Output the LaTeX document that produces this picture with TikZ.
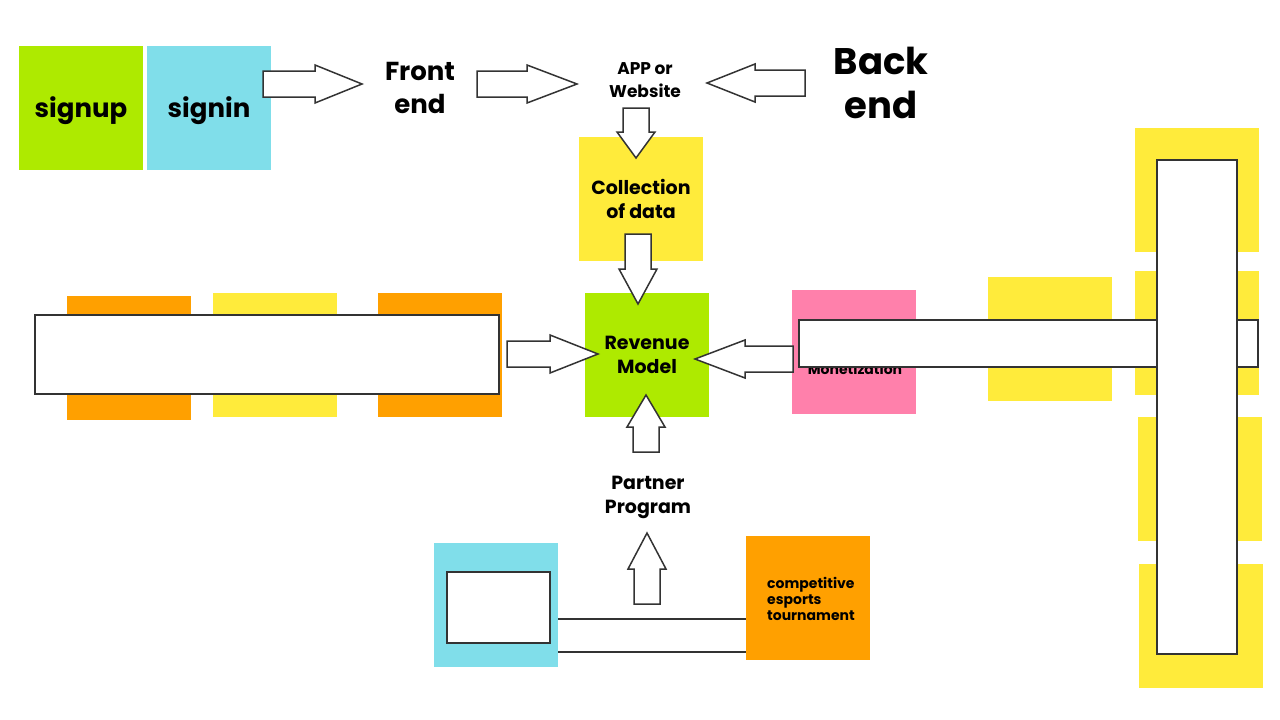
\documentclass[tikz,border=0pt]{standalone}
\usepackage{fontspec}
\setmainfont{Poppins}
\usetikzlibrary{calc}
\usetikzlibrary{positioning}

\definecolor{stickygreen}{HTML}{AEEA00}
\definecolor{stickyblue}{HTML}{80DEEA}
\definecolor{stickyyellow}{HTML}{FFEB3B}
\definecolor{stickyorange}{HTML}{FFA000}
\definecolor{stickypink}{HTML}{FF80AB}
\definecolor{outline}{HTML}{333333}

% block arrow from tail coordinate to tip coordinate
\newcommand\fatarrow[3][40]{%
  \coordinate (hb) at ($(#3)!#1pt!(#2)$);
  \draw[arrowline] ($(#2)!13pt!90:(#3)$) -- ($(hb)!13pt!90:(#3)$)
    -- ($(hb)!19pt!90:(#3)$) -- (#3) -- ($(hb)!19pt!-90:(#3)$)
    -- ($(hb)!13pt!-90:(#3)$) -- ($(#2)!13pt!-90:(#3)$) -- cycle;}

\begin{document}
\begin{tikzpicture}
[x=1pt,y=-1pt,
 sticky/.style={minimum width=124pt,minimum height=124pt,inner sep=0pt,font=\fontsize{19}{24}\selectfont\bfseries,align=center},
 label/.style={inner sep=0pt,align=center,font=\fontsize{19}{24}\selectfont\bfseries},
 blank/.style={draw=outline,fill=white,line width=1.5pt},
 arrowline/.style={draw=outline,fill=white,line width=1.5pt,line join=miter}]
\useasboundingbox (0,0) rectangle (1280,720);
% top row
\node[sticky,fill=stickygreen] (SignUp) at (81,108) {};
\node[sticky,fill=stickyblue] (SignIn) at (209,108) {};
\node[label,font=\fontsize{26}{30}\selectfont\bfseries] (SignUpText) at (81,111) {signup};
\node[label,font=\fontsize{26}{30}\selectfont\bfseries] (SignInText) at (209,111) {signin};
\node[label,font=\fontsize{26}{33}\selectfont\bfseries] (FrontEnd) at (420,88) {Front\\end};
\node[label,font=\fontsize{17}{23}\selectfont\bfseries] (AppWeb) at (645,80) {APP or\\Website};
\node[label,font=\fontsize{37}{44}\selectfont\bfseries] (BackEnd) at (881,83) {Back\\end};
\node[sticky,fill=stickyyellow] (DataCollection) at (641,199) {Collection\\of data};
\node[sticky,fill=stickygreen] (RevenueModel) at (647,355) {Revenue\\Model};
% left row
\node[sticky,fill=stickyorange] (LeftA) at (129,358) {};
\node[sticky,fill=stickyyellow] (LeftB) at (275,355) {};
\node[sticky,fill=stickyorange] (LeftC) at (440,355) {};
\draw[blank] (35,315) rectangle (499,394);
% right row
\node[sticky,fill=stickypink] (MonetBox) at (854,352) {};
\node[label,font=\fontsize{14}{16}\selectfont\bfseries] (Monetization) at (855,369) {Monetization};
\node[sticky,fill=stickyyellow] (RightA) at (1050,339) {};
\node[sticky,fill=stickyyellow] (ColA) at (1197,190) {};
\node[sticky,fill=stickyyellow] (ColB) at (1197,333) {};
\node[sticky,fill=stickyyellow] (ColC) at (1200,479) {};
\node[sticky,fill=stickyyellow] (ColD) at (1201,626) {};
\draw[blank] (799,320) rectangle (1258,367);
\draw[blank] (1157,160) rectangle (1237,654);
% bottom row
\node[label] (PartnerProgram) at (648,497) {Partner\\Program};
\draw[blank] (540,619) rectangle (760,652);
\node[sticky,fill=stickyblue] (Stream) at (496,605) {};
\node[sticky,fill=stickyorange] (TourBox) at (808,598) {};
\node[label,align=left,anchor=west,font=\fontsize{14}{16}\selectfont\bfseries] (Tournament) at (767,599) {competitive\\esports\\tournament};
\draw[blank] (447,572) rectangle (550,643);
% arrows
\coordinate (a1) at (263,84);  \coordinate (b1) at (362,84);
\coordinate (a2) at (477,84);  \coordinate (b2) at (577,84);
\coordinate (a3) at (805,83);  \coordinate (b3) at (707,83);
\coordinate (a4) at (636,108); \coordinate (b4) at (636,158);
\coordinate (a5) at (638,234); \coordinate (b5) at (638,304);
\coordinate (a6) at (507,354); \coordinate (b6) at (598,354);
\coordinate (a7) at (793,359); \coordinate (b7) at (695,359);
\coordinate (a8) at (646,452); \coordinate (b8) at (646,395);
\coordinate (a9) at (647,604); \coordinate (b9) at (647,533);
\fatarrow[47]{a1}{b1}
\fatarrow[50]{a2}{b2}
\fatarrow[48]{a3}{b3}
\fatarrow[26]{a4}{b4}
\fatarrow[35]{a5}{b5}
\fatarrow[48]{a6}{b6}
\fatarrow[50]{a7}{b7}
\fatarrow[32]{a8}{b8}
\fatarrow[36]{a9}{b9}
\end{tikzpicture}
\end{document}
